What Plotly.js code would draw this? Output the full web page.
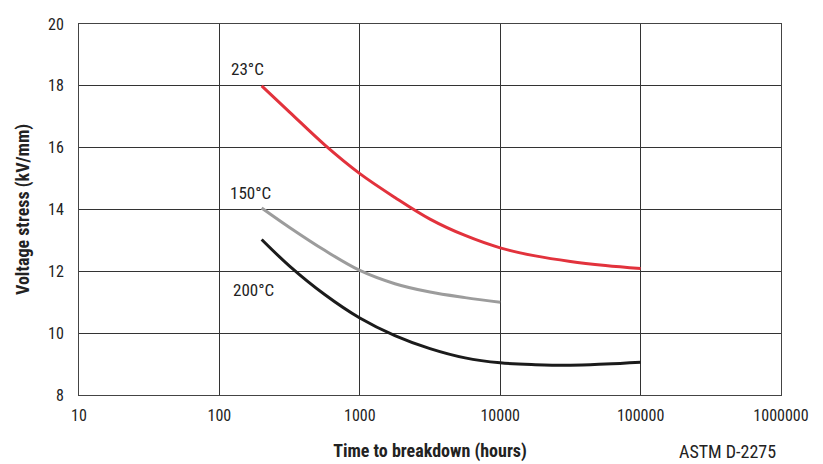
<!DOCTYPE html>
<html><head><meta charset="utf-8">
<script src="https://cdn.plot.ly/plotly-3.0.1.min.js"></script>
<style>html,body{margin:0;padding:0;background:#fff}#chart{width:823px;height:464px}</style>
</head><body><div id="chart"></div>
<script>
const hours23 = [200, 316, 562, 1000, 1778, 3162, 5623, 10000, 17783, 31623, 56234, 100000];
const stress23 = [18.0, 17.15, 16.09, 15.16, 14.39, 13.69, 13.16, 12.76, 12.5, 12.32, 12.19, 12.09];
const hours150 = [200, 316, 562, 1000, 1778, 3162, 5623, 10000];
const stress150 = [14.05, 13.42, 12.68, 12.03, 11.6, 11.33, 11.15, 11.0];
const hours200 = [200, 316, 562, 1000, 1778, 3162, 5623, 10000, 17783, 31623, 56234, 100000];
const stress200 = [13.03, 12.17, 11.25, 10.49, 9.92, 9.5, 9.2, 9.04, 8.98, 8.96, 9.0, 9.06];
const xTicks = [10, 100, 1000, 10000, 100000, 1000000];
const xTickText = ["10", "100", "1000", "10000", "100000", "1000000"];
const yTicks = [8, 10, 12, 14, 16, 18, 20];
const labels = ["23°C", "150°C", "200°C"];

const FONT = '"Liberation Sans Narrow", "Roboto Condensed", Roboto, sans-serif';
const mk = (x, y, c) => ({x, y, type: 'scatter', mode: 'lines',
  line: {color: c, width: 3, shape: 'spline', smoothing: 1}, hoverinfo: 'skip'});
const data = [mk(hours23, stress23, '#e2323c'), mk(hours150, stress150, '#9c9c9c'), mk(hours200, stress200, '#1b1b1b')];

const layout = {
  width: 823, height: 464,
  margin: {l: 79, r: 42, t: 23.5, b: 69},
  paper_bgcolor: '#fff', plot_bgcolor: '#fff',
  showlegend: false,
  font: {family: FONT, size: 16, color: '#222'},
  xaxis: {type: 'log', range: [1, 6], tickvals: xTicks, ticktext: xTickText,
    showgrid: true, gridcolor: '#333', gridwidth: 1, showline: true, linecolor: '#444', linewidth: 1, mirror: true,
    ticks: '', ticklabelstandoff: 6, zeroline: false,
    title: {text: '<b>Time to breakdown (hours)</b>', font: {family: FONT, size: 18}, standoff: 20}},
  yaxis: {range: [8, 20], tickvals: yTicks, showgrid: true, gridcolor: '#333', gridwidth: 1,
    showline: true, linecolor: '#444', linewidth: 1, mirror: true, ticks: '', ticklabelstandoff: 11, zeroline: false,
    title: {text: '<b>Voltage stress (kV/mm)</b>', font: {family: FONT, size: 18}, standoff: 13}},
  annotations: [
    {xref: 'x', yref: 'y', x: 2.065, y: 18.55, text: labels[0], showarrow: false, xanchor: 'left', font: {family: FONT, size: 17}},
    {xref: 'x', yref: 'y', x: 2.06, y: 14.52, text: labels[1], showarrow: false, xanchor: 'left', font: {family: FONT, size: 17}},
    {xref: 'x', yref: 'y', x: 2.08, y: 11.39, text: labels[2], showarrow: false, xanchor: 'left', font: {family: FONT, size: 17}},
    {xref: 'paper', yref: 'paper', x: (727 - 79) / 702, y: -(452 - 395) / 371.5, xanchor: 'center', yanchor: 'middle',
      text: 'ASTM D-2275', showarrow: false, font: {family: FONT, size: 18}}
  ]
};
Plotly.newPlot('chart', data, layout, {staticPlot: true});
</script></body></html>
